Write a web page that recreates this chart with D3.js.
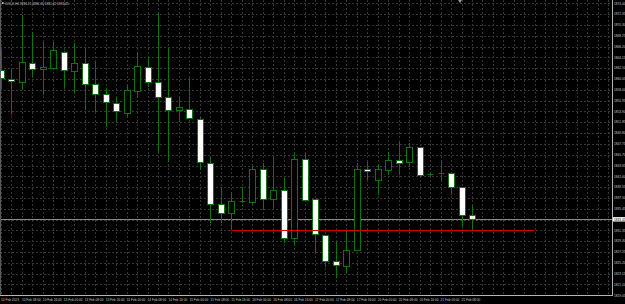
<!DOCTYPE html>
<html>
<head>
<meta charset="utf-8">
<script src="https://cdn.jsdelivr.net/npm/d3@7"></script>
<style>
  body { margin: 0; background: #000; }
  svg { display: block; }
</style>
</head>
<body>
<svg id="chart" width="625" height="304"></svg>
<script>
// GOLD H4 candles, 10 Feb 2023 -> 21 Feb 2023
var opens  = [1861.76, 1860.11, 1859.54, 1863.14, 1861.89, 1862.19, 1865.11, 1861.62, 1863.03, 1859.04,
              1857.15, 1855.56, 1853.55, 1857.83, 1862.38, 1859.42, 1856.69, 1854.17, 1854.36, 1852.52,
              1844.12, 1836.30, 1834.59, 1836.86, 1836.67, 1842.93, 1837.36, 1839.01, 1829.85, 1844.83,
              1837.24, 1830.42, 1825.55, 1824.66, 1827.58, 1842.93, 1840.96, 1842.85, 1844.69, 1844.26,
              1847.10, 1841.98, 1842.23, 1842.17, 1839.58, 1834.21];
var highs  = [1865.55, 1861.76, 1872.18, 1868.96, 1867.06, 1867.06, 1865.36, 1866.87, 1865.93, 1863.27,
              1858.34, 1856.64, 1858.91, 1865.17, 1864.22, 1872.56, 1865.93, 1856.69, 1860.24, 1852.85,
              1845.32, 1839.63, 1838.68, 1839.63, 1843.37, 1844.12, 1845.45, 1841.28, 1846.02, 1845.97,
              1837.30, 1830.50, 1829.21, 1831.42, 1844.18, 1844.37, 1843.94, 1846.27, 1848.16, 1847.92,
              1847.20, 1842.30, 1844.69, 1842.20, 1839.60, 1836.16];
var lows   = [1858.34, 1853.22, 1857.96, 1860.43, 1857.02, 1861.76, 1858.34, 1857.40, 1854.17, 1853.79,
              1851.01, 1851.90, 1852.85, 1856.45, 1858.53, 1846.21, 1844.31, 1851.95, 1852.47, 1842.80,
              1832.69, 1832.69, 1831.42, 1836.54, 1836.35, 1835.22, 1835.59, 1828.90, 1828.58, 1836.90,
              1827.01, 1824.47, 1822.32, 1823.27, 1827.50, 1840.90, 1838.06, 1841.85, 1841.85, 1843.42,
              1841.53, 1841.60, 1840.90, 1838.06, 1832.05, 1831.42];
var closes = [1860.18, 1859.67, 1863.22, 1861.89, 1862.32, 1865.49, 1861.70, 1863.08, 1859.04, 1857.21,
              1855.63, 1853.98, 1857.96, 1862.51, 1859.42, 1856.69, 1854.17, 1854.68, 1852.60, 1844.26,
              1836.41, 1834.59, 1836.86, 1836.86, 1842.93, 1837.36, 1839.01, 1829.85, 1844.83, 1837.05,
              1830.61, 1825.55, 1824.73, 1827.63, 1842.93, 1842.55, 1842.99, 1844.69, 1844.12, 1847.10,
              1841.91, 1841.98, 1842.23, 1839.58, 1834.21, 1833.45];

var timeLabels = ['10 Feb 2023', '10 Feb 08:00', '10 Feb 16:00', '13 Feb 00:00', '13 Feb 08:00', '13 Feb 16:00',
                  '14 Feb 00:00', '14 Feb 08:00', '14 Feb 16:00', '15 Feb 00:00', '15 Feb 08:00', '15 Feb 16:00',
                  '16 Feb 00:00', '16 Feb 08:00', '16 Feb 16:00', '17 Feb 00:00', '17 Feb 08:00', '17 Feb 16:00',
                  '20 Feb 00:00', '20 Feb 08:00', '20 Feb 16:00', '21 Feb 00:00', '21 Feb 08:00'];
var priceLabels = ['1874.40', '1872.35', '1870.30', '1868.25', '1866.20', '1864.15', '1862.10', '1860.05',
                   '1858.00', '1855.95', '1853.90', '1851.85', '1849.80', '1847.75', '1845.70', '1843.65',
                   '1841.60', '1839.55', '1837.50', '1835.45', '1833.40', '1831.35', '1829.30', '1827.25',
                   '1825.20', '1823.15', '1821.10', '1819.05'];

var title = 'GOLD,H4  1834.21 1836.16 1831.42 1833.45';
var lastPrice = 1833.45;
var levelPrice = 1831.42;   // red horizontal level
var levelFrom = 22, levelTo = 51;

var W = 625, H = 304;
var plotRight = 612, plotBottom = 295;
var green = '#0c760c';

var svg = d3.select('#chart');
svg.append('rect').attr('width', W).attr('height', H).attr('fill', '#000');

var x = d3.scaleLinear().domain([0, 45]).range([1, 472]);
var y = d3.scaleLinear().domain([1819.05, 1874.40]).range([295.3, 3.3]);

function px(v) { return Math.round(v) + 0.5; }

// grid
var grid = svg.append('g');
var gridCount = Math.floor(x.invert(plotRight));
grid.selectAll('line.v')
    .data(d3.range(0, gridCount + 1))
    .enter()
    .append('line')
    .attr('x1', function(i) { return px(x(i)); })
    .attr('x2', function(i) { return px(x(i)); })
    .attr('y1', 0)
    .attr('y2', plotBottom)
    .style('stroke', '#363636')
    .style('stroke-dasharray', '2,2');

grid.selectAll('line.h')
    .data(priceLabels)
    .enter()
    .append('line')
    .attr('x1', 0)
    .attr('x2', plotRight)
    .attr('y1', function(p) { return px(y(+p)); })
    .attr('y2', function(p) { return px(y(+p)); })
    .style('stroke', '#363636')
    .style('stroke-dasharray', '2,2');

// bid line
svg.append('line')
    .attr('x1', 0).attr('x2', plotRight)
    .attr('y1', px(y(lastPrice))).attr('y2', px(y(lastPrice)))
    .style('stroke', '#8a8a8a');

// candles
var idx = d3.range(opens.length);
var candles = svg.append('g');

candles.selectAll('line.wick')
    .data(idx)
    .enter()
    .append('line')
    .attr('class', 'wick')
    .attr('x1', function(i) { return px(x(i)); })
    .attr('x2', function(i) { return px(x(i)); })
    .attr('y1', function(i) { return Math.round(y(highs[i])); })
    .attr('y2', function(i) { return Math.round(y(lows[i])); })
    .style('stroke', green);

candles.selectAll('rect.body')
    .data(idx.filter(function(i) { return Math.abs(y(opens[i]) - y(closes[i])) >= 1; }))
    .enter()
    .append('rect')
    .attr('class', 'body')
    .attr('x', function(i) { return px(x(i)) - 3; })
    .attr('y', function(i) { return px(y(Math.max(opens[i], closes[i]))); })
    .attr('width', 6)
    .attr('height', function(i) {
        return Math.round(y(Math.min(opens[i], closes[i]))) - Math.round(y(Math.max(opens[i], closes[i])));
    })
    .attr('fill', function(i) { return closes[i] > opens[i] ? '#000' : '#fff'; })
    .style('stroke', green);

candles.selectAll('line.doji')
    .data(idx.filter(function(i) { return Math.abs(y(opens[i]) - y(closes[i])) < 1; }))
    .enter()
    .append('line')
    .attr('x1', function(i) { return px(x(i)) - 3; })
    .attr('x2', function(i) { return px(x(i)) + 3; })
    .attr('y1', function(i) { return px(y(closes[i])); })
    .attr('y2', function(i) { return px(y(closes[i])); })
    .style('stroke', green);

// red level
svg.append('line')
    .attr('x1', x(levelFrom)).attr('x2', x(levelTo))
    .attr('y1', px(y(levelPrice))).attr('y2', px(y(levelPrice)))
    .style('stroke', '#d40000');

// frame
svg.append('line').attr('x1', plotRight + 0.5).attr('x2', plotRight + 0.5).attr('y1', 0).attr('y2', plotBottom + 1)
    .style('stroke', '#b4b4b4');
svg.append('line').attr('x1', 0).attr('x2', plotRight + 1).attr('y1', plotBottom + 0.5).attr('y2', plotBottom + 0.5)
    .style('stroke', '#b4b4b4');
svg.append('line').attr('x1', 0.5).attr('x2', 0.5).attr('y1', 0).attr('y2', plotBottom)
    .style('stroke', '#5a5a5a');

// price axis
var lastY = y(lastPrice);
svg.selectAll('text.price')
    .data(priceLabels.filter(function(p) { return Math.abs(y(+p) - lastY) > 4; }))
    .enter()
    .append('text')
    .attr('x', 614)
    .attr('y', function(p) { return y(+p) + 1.2; })
    .attr('fill', '#c8c8c8')
    .style('font', '3.2px "Liberation Sans", Arial, sans-serif')
    .text(function(p) { return p; });

svg.append('rect')
    .attr('x', 613).attr('y', lastY - 2.2).attr('width', 12).attr('height', 4.4)
    .attr('fill', '#ffffff');
svg.append('text')
    .attr('x', 614).attr('y', lastY + 1.2)
    .attr('fill', '#000')
    .style('font', '3.2px "Liberation Sans", Arial, sans-serif')
    .text(lastPrice.toFixed(2));

// time axis
svg.selectAll('text.time')
    .data(timeLabels)
    .enter()
    .append('text')
    .attr('x', function(d, k) { return x(k * 2); })
    .attr('y', 300.5)
    .attr('fill', '#c8c8c8')
    .style('font', '3.2px "Liberation Sans", Arial, sans-serif')
    .text(function(d) { return d; });

// title
svg.append('rect').attr('x', 2).attr('y', 2.3).attr('width', 1.6).attr('height', 1.6).attr('fill', '#ddd');
svg.append('text')
    .attr('x', 5).attr('y', 4.6)
    .attr('fill', '#c8c8c8')
    .style('font', '3.2px "Liberation Sans", Arial, sans-serif')
    .text(title);

// chart shift marker
svg.append('path')
    .attr('d', 'M458,0 L462,0 L460,3 Z')
    .attr('fill', '#9a9a9a');
</script>
</body>
</html>
